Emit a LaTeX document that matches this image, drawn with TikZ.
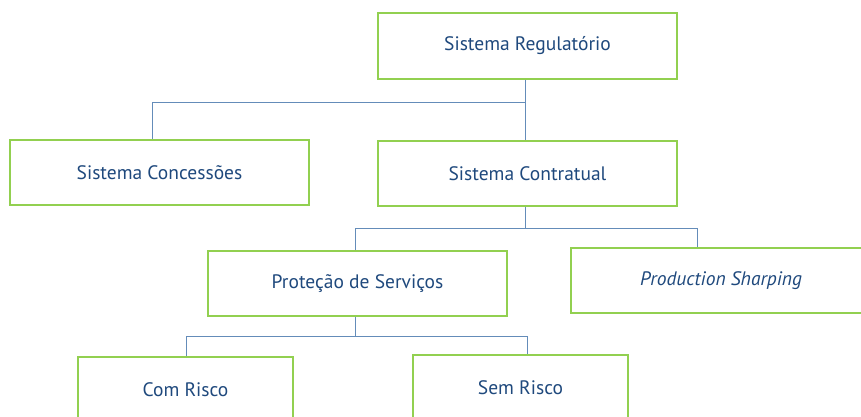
\documentclass[tikz,border=0pt]{standalone}
\usepackage{fontspec}
\setmainfont{PT Sans}
\definecolor{boxgreen}{RGB}{146,208,80}
\definecolor{txtblue}{RGB}{31,73,125}
\definecolor{linkblue}{RGB}{100,140,185}
\begin{document}
\begin{tikzpicture}[x=1pt,y=-1pt,
  box/.style={draw=boxgreen, line width=1.2pt, fill=white, text=txtblue,
    font=\fontsize{19.5}{22}\selectfont, inner sep=0pt, minimum height=65pt},
  wide/.style={minimum width=299pt},
  narrow/.style={minimum width=215pt},
  link/.style={draw=linkblue, line width=0.9pt}]
\useasboundingbox (0,0) rectangle (861,416);
\clip (0,0) rectangle (861,416);
\fill[white] (0,0) rectangle (861,416);

\node[box, wide, minimum height=66pt] (reg) at (527.5,46) {Sistema Regulatório};
\node[box, wide] (con) at (159.5,172.5) {Sistema Concessões};
\node[box, wide] (ctr) at (527.5,173.5) {Sistema Contratual};
\node[box, wide] (pro) at (357.5,283.5) {Proteção de Serviços};
\node[box, minimum width=300pt] (prod) at (721,280.5) {\itshape Production Sharping};
\node[box, narrow] (com) at (185.5,389.5) {Com Risco};
\node[box, narrow] (sem) at (520.5,387.5) {Sem Risco};

\coordinate (a1) at (525,102);
\coordinate (a2) at (152,102);
\draw[link] (reg.south -| a1) -- (ctr.north -| a1);
\draw[link] (a1) -- (a2) -- (con.north -| a2);

\coordinate (b1) at (525,228);
\coordinate (b2) at (355,228);
\coordinate (b3) at (697,228);
\draw[link] (ctr.south -| b1) -- (b1);
\draw[link] (pro.north -| b2) -- (b2) -- (b3) -- (prod.north -| b3);

\coordinate (c1) at (355,336);
\coordinate (c2) at (186,336);
\coordinate (c3) at (527,336);
\draw[link] (pro.south -| c1) -- (c1);
\draw[link] (com.north -| c2) -- (c2) -- (c3) -- (sem.north -| c3);
\end{tikzpicture}
\end{document}
